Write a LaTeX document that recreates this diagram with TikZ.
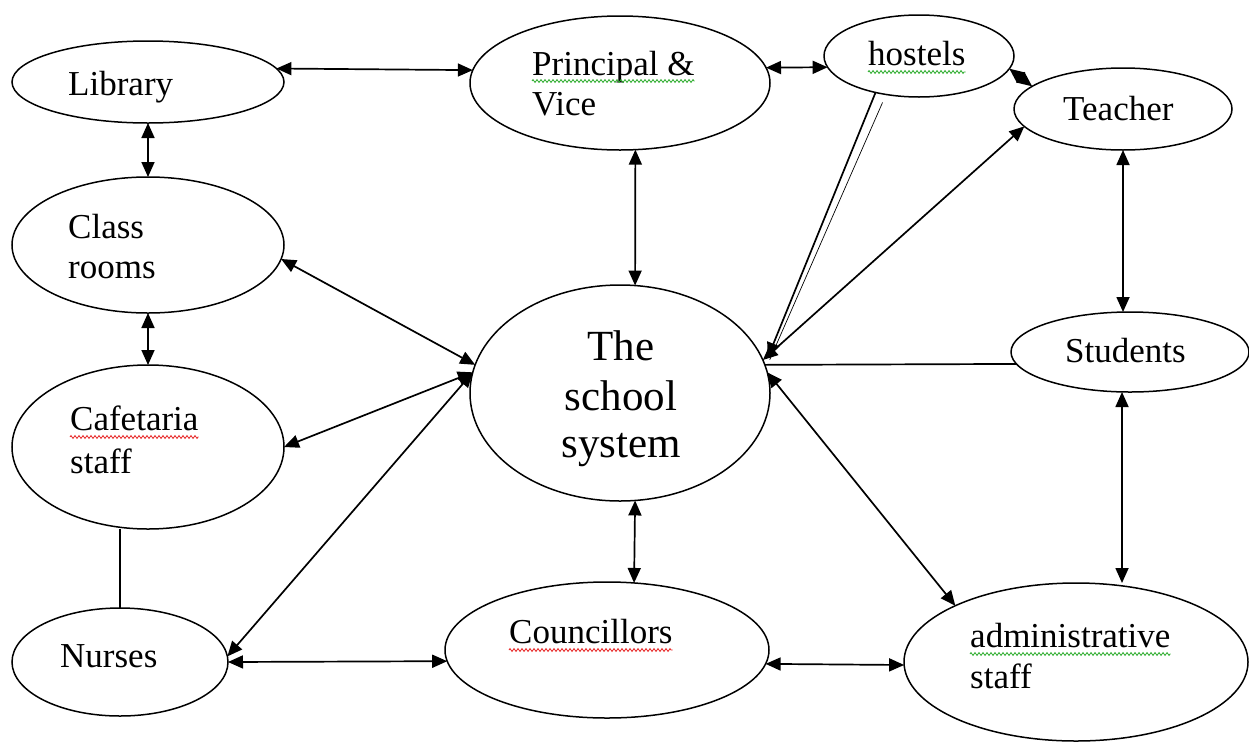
\documentclass[tikz,border=0pt]{standalone}
\usepackage{fontspec}
\setmainfont{Liberation Serif}
\usetikzlibrary{shapes.geometric,arrows.meta,decorations.pathmorphing}
\begin{document}
\begin{tikzpicture}[x=1pt,y=-1pt,
  ell/.style={draw, ellipse, line width=1.5pt, inner sep=0pt, outer sep=0pt},
  bi/.style={line width=1.7pt, {Triangle[length=15pt,width=13pt]}-{Triangle[length=15pt,width=13pt]}},
  one/.style={line width=1.7pt, -{Triangle[length=15pt,width=13pt]}},
  plain/.style={line width=1.7pt},
  lbl/.style={anchor=base west, inner sep=0pt, font=\fontsize{35}{40}\selectfont},
  big/.style={anchor=base, inner sep=0pt, font=\fontsize{43}{48}\selectfont},
  squig/.style={draw=#1, line width=0.8pt, decorate, decoration={zigzag, segment length=4pt, amplitude=1.4pt}}
]
\useasboundingbox (0,0) rectangle (1249,742);
\definecolor{sqgreen}{RGB}{40,170,40}
\definecolor{sqred}{RGB}{230,30,30}

% ellipses
\node[ell, minimum width=272pt, minimum height=82pt]  (lib)    at (148,82)   {};
\node[ell, minimum width=300pt, minimum height=134pt] (prin)   at (620,83)   {};
\node[ell, minimum width=190pt, minimum height=82pt]  (host)   at (919,56)   {};
\node[ell, minimum width=218pt, minimum height=82pt]  (teach)  at (1123,109) {};
\node[ell, minimum width=272pt, minimum height=136pt] (class)  at (148,245)  {};
\node[ell, minimum width=300pt, minimum height=216pt] (school) at (620,393)  {};
\node[ell, minimum width=238pt, minimum height=80pt]  (stud)   at (1130,352) {};
\node[ell, minimum width=272pt, minimum height=164pt] (cafe)   at (148,447)  {};
\node[ell, minimum width=216pt, minimum height=108pt] (nurse)  at (120,662)  {};
\node[ell, minimum width=324pt, minimum height=136pt] (counc)  at (607,650)  {};
\node[ell, minimum width=344pt, minimum height=158pt] (admin)  at (1076,662) {};

% texts
\node[lbl] (tlib)   at (68,95)   {Library};
\node[lbl] (tprin1) at (532,75)  {Principal \&};
\node[lbl] (tprin2) at (532,115) {Vice};
\node[lbl] (thost)  at (868,65)  {hostels};
\node[lbl] (tteach) at (1063,120) {Teacher};
\node[lbl] (tclass1) at (68,238) {Class};
\node[lbl] (tclass2) at (68,278) {rooms};
\node[big] (tsch1) at (621,360) {The};
\node[big] (tsch2) at (621,410) {school};
\node[big] (tsch3) at (621,457) {system};
\node[lbl] (tstud)  at (1065,362) {Students};
\node[lbl] (tcafe1) at (70,430)  {Cafetaria};
\node[lbl] (tcafe2) at (70,473)  {staff};
\node[lbl] (tnurse) at (60,667)  {Nurses};
\node[lbl] (tcounc) at (509,643) {Councillors};
\node[lbl] (tadm1)  at (970,647) {administrative};
\node[lbl] (tadm2)  at (970,688) {staff};

% spell-check underlines
\draw[squig=sqgreen] ([yshift=-6pt]tprin1.base west) -- ([yshift=-6pt]tprin1.base east);
\draw[squig=sqgreen] ([yshift=-7pt]thost.base west) -- ([yshift=-7pt]thost.base east);
\draw[squig=sqred]   ([yshift=-7pt]tcafe1.base west) -- ([yshift=-7pt]tcafe1.base east);
\draw[squig=sqred]   ([yshift=-7pt]tcounc.base west) -- ([yshift=-7pt]tcounc.base east);
\draw[squig=sqgreen] ([yshift=-7pt]tadm1.base west) -- ([yshift=-7pt]tadm1.base east);

% connectors
\draw[bi] (lib.6) -- (prin.175);
\draw[bi] (lib.south) -- (class.north);
\draw[bi] (class.south) -- (cafe.north);
\draw[plain] (nurse.north |- cafe.south) -- (nurse.north);
\draw[bi] (class.-6) -- (school.169);
\draw[bi] (cafe.east) -- (school.172);
\draw[bi] (nurse.3) -- (school.172);
\draw[bi] (nurse.east) -- (counc.184);
\draw[bi] (prin.-77) -- (school.82);
\draw[bi] (school.-82) -- (counc.68);
\draw[bi] (counc.-5) -- (admin.181);
\draw[bi] (prin.6) -- (host.187);
\draw[bi] (host.-8) -- (teach.166);
\draw[bi] (school.13) -- (teach.190);
\draw[one] (host.220) -- ([xshift=6pt]school.14);
\draw[line width=0.7pt] ([shift={(7,10)}]host.220) -- ([shift={(8,2)}]school.14);
\draw[plain] (stud.186) -- (school.11);
\draw[bi] (school.8) -- (admin.155);
\draw[bi] (teach.south) -- (teach.south |- stud.north);
\draw[bi] ([xshift=-8pt]stud.south) -- ([xshift=-8pt]stud.south |- admin.north);
\end{tikzpicture}
\end{document}
